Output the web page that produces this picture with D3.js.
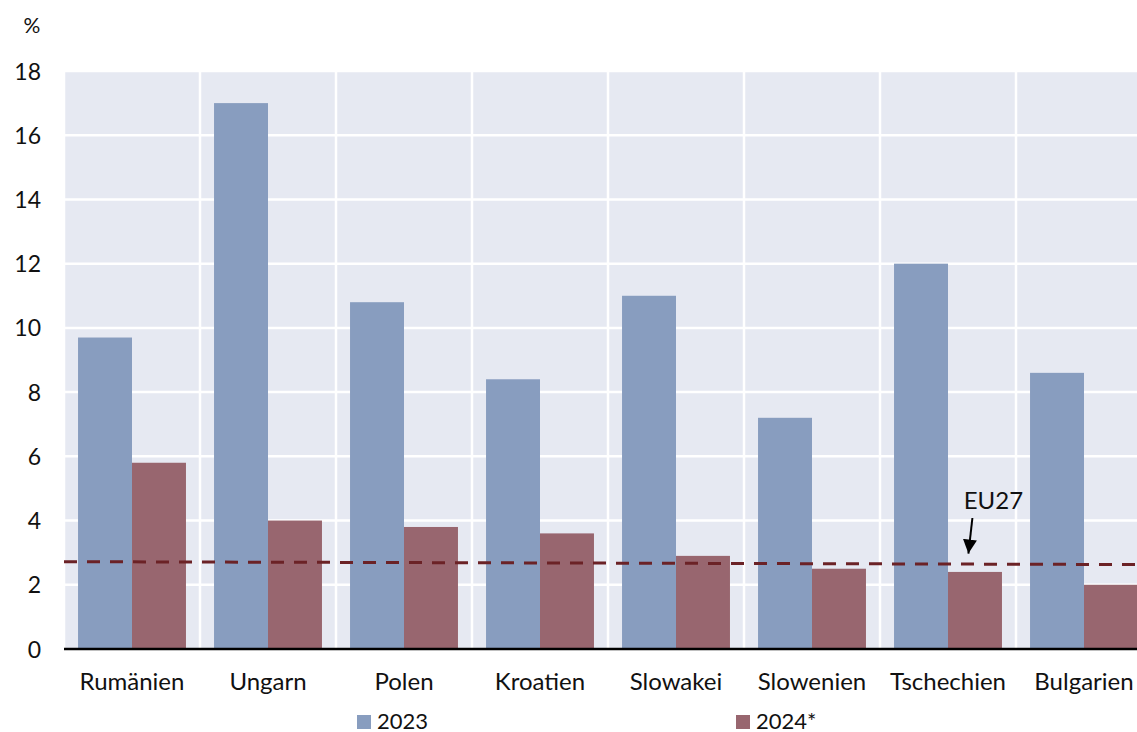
<!DOCTYPE html>
<html>
<head>
<meta charset="utf-8">
<script src="https://cdn.jsdelivr.net/npm/d3@7"></script>
<style>
  html, body { margin: 0; padding: 0; background: #ffffff; }
  svg { display: block; }
  text { font-family: Lato, "Open Sans", sans-serif; fill: #111; }
</style>
</head>
<body>
<svg id="chart" width="1137" height="732"></svg>
<script>
// Inflation by country, 2023 vs 2024 (forecast)
const countries = ["Rumänien", "Ungarn", "Polen", "Kroatien", "Slowakei", "Slowenien", "Tschechien", "Bulgarien"];
const seriesNames = ["2023", "2024*"];
const values2023 = [9.7, 17.0, 10.8, 8.4, 11.0, 7.2, 12.0, 8.6];
const values2024 = [5.8, 4.0, 3.8, 3.6, 2.9, 2.5, 2.4, 2.0];
// EU27 reference line: level at the left and right edge of the plot
const eu27Ends = [2.72, 2.63];
const eu27Label = "EU27";
const yTicks = [0, 2, 4, 6, 8, 10, 12, 14, 16, 18];
const unitLabel = "%";

const colors = { "2023": "#889dbf", "2024*": "#98666f", eu: "#6b2226" };

const svg = d3.select("#chart");
const W = 1137, H = 732;
const plot = { left: 64, right: 1152, top: 71, bottom: 649 };

// clip everything to the window (the last band runs past the right edge)
svg.append("defs").append("clipPath").attr("id", "plotClip")
  .append("rect").attr("x", plot.left).attr("y", plot.top - 2)
  .attr("width", W - plot.left).attr("height", plot.bottom - plot.top + 4);

const x = d3.scaleBand().domain(countries).range([plot.left, plot.right]).paddingInner(0).paddingOuter(0);
const xInner = d3.scaleBand().domain(seriesNames).range([0, x.bandwidth()]).paddingOuter(0.26).paddingInner(0);
const y = d3.scaleLinear().domain([0, 18]).range([plot.bottom, plot.top]);

const g = svg.append("g").attr("clip-path", "url(#plotClip)");

// background
g.append("rect").attr("x", plot.left).attr("y", plot.top)
  .attr("width", plot.right - plot.left).attr("height", plot.bottom - plot.top)
  .attr("fill", "#e6e9f2");

// horizontal gridlines
g.append("g").selectAll("line").data(yTicks.filter(t => t > 0)).join("line")
  .attr("x1", plot.left).attr("x2", plot.right)
  .attr("y1", d => y(d)).attr("y2", d => y(d))
  .attr("stroke", "#ffffff").attr("stroke-width", 2.5);

// vertical separators between countries
g.append("g").selectAll("line").data(countries).join("line")
  .attr("x1", d => x(d)).attr("x2", d => x(d))
  .attr("y1", plot.top).attr("y2", plot.bottom)
  .attr("stroke", "#ffffff").attr("stroke-width", 2.5);

// bars
const rows = countries.map((c, i) => ({ country: c, vals: [
  { s: "2023", v: values2023[i] }, { s: "2024*", v: values2024[i] } ] }));

g.append("g").selectAll("g").data(rows).join("g")
  .attr("transform", d => `translate(${x(d.country)},0)`)
  .selectAll("rect").data(d => d.vals).join("rect")
  .attr("x", d => xInner(d.s))
  .attr("width", xInner.bandwidth())
  .attr("y", d => y(d.v))
  .attr("height", d => y(0) - y(d.v))
  .attr("fill", d => colors[d.s]);

// EU27 dashed line
g.append("line")
  .attr("x1", plot.left).attr("x2", W)
  .attr("y1", y(eu27Ends[0])).attr("y2", y(eu27Ends[1]))
  .attr("stroke", colors.eu).attr("stroke-width", 3)
  .attr("stroke-dasharray", "13,10");

// baseline
svg.append("line").attr("x1", plot.left).attr("x2", W)
  .attr("y1", y(0)).attr("y2", y(0))
  .attr("stroke", "#000").attr("stroke-width", 2.5);

// y axis labels
const yAxis = d3.axisLeft(y).tickValues(yTicks).tickSize(0).tickPadding(0).tickFormat(d3.format("d"));
const ya = svg.append("g").attr("transform", `translate(41,0)`).call(yAxis);
ya.select(".domain").remove();
ya.selectAll("text").attr("font-size", 23).attr("font-family", "Lato, sans-serif").attr("fill", "#111").attr("dy", "0.35em");

svg.append("text").attr("x", 32).attr("y", 33).attr("text-anchor", "middle")
  .attr("font-size", 21).text(unitLabel);

// x axis labels
const xAxis = d3.axisBottom(x).tickSize(0).tickPadding(0);
const xa = svg.append("g").attr("transform", `translate(0,${plot.bottom + 24})`).call(xAxis);
xa.select(".domain").remove();
xa.selectAll("text").attr("font-size", 24).attr("font-family", "Lato, sans-serif").attr("fill", "#111").attr("dy", "0.71em");

// EU27 annotation with arrow
svg.append("defs").append("marker").attr("id", "arrowHead")
  .attr("viewBox", "0 0 10 10").attr("refX", 10).attr("refY", 5)
  .attr("markerWidth", 7).attr("markerHeight", 7).attr("orient", "auto")
  .append("path").attr("d", "M0,0 L10,5 L0,10 z").attr("fill", "#000");

const annX = x("Tschechien") + x.bandwidth() * 0.65;
svg.append("text").attr("x", annX + 25).attr("y", 509).attr("text-anchor", "middle")
  .attr("font-size", 24).text(eu27Label);
svg.append("line").attr("x1", annX + 4).attr("y1", 518)
  .attr("x2", annX).attr("y2", y(eu27Ends[1]) - 11)
  .attr("stroke", "#000").attr("stroke-width", 2)
  .attr("marker-end", "url(#arrowHead)");

// legend
const legend = [{ s: "2023", x: 357 }, { s: "2024*", x: 736 }];
const lg = svg.append("g").selectAll("g").data(legend).join("g")
  .attr("transform", d => `translate(${d.x},715)`);
lg.append("rect").attr("width", 14).attr("height", 14).attr("fill", d => colors[d.s]);
lg.append("text").attr("x", 20).attr("y", 13.5).attr("font-size", 22).text(d => d.s);
</script>
</body>
</html>
